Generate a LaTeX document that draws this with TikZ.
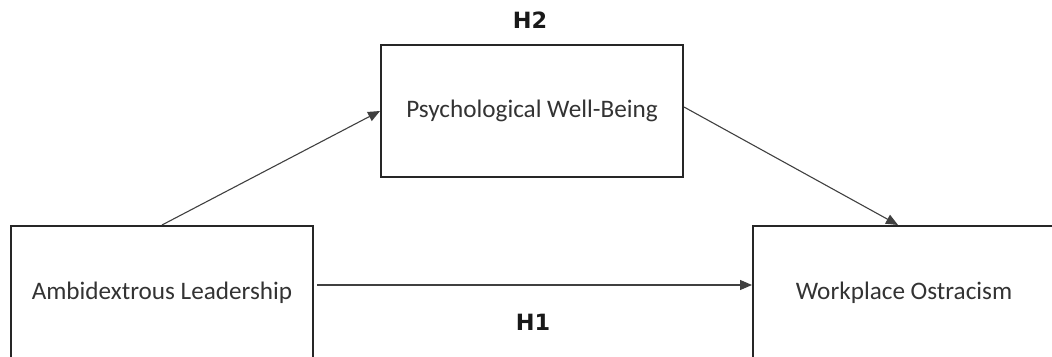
\documentclass[tikz,border=0pt]{standalone}
\usepackage{fontspec}
\setmainfont{Carlito}
\newfontfamily\hypfont{DejaVu Sans}
\usetikzlibrary{arrows.meta}

\begin{document}
\begin{tikzpicture}[x=0.5pt, y=-0.5pt,
  varbox/.style={draw=black!85, line width=1pt, minimum width=151pt, font=\fontsize{12.6}{15}\selectfont, text=black!80},
  path/.style={draw=black!75, line width=0.55pt, -{Triangle[length=6pt,width=5pt]}},
  hyp/.style={font=\hypfont\bfseries\fontsize{11.2}{13}\selectfont, text=black!90}]
\useasboundingbox (0,0) rectangle (1052,357);
\clip (0,0) rectangle (1052,357);

\node[varbox, minimum height=66pt] (well) at (532,111) {Psychological Well-Being};
\node[varbox, minimum height=67pt] (lead) at (162,293) {Ambidextrous Leadership};
\node[varbox, minimum height=67pt] (ostr) at (904,293) {Workplace Ostracism};

\draw[path] (lead.north) -- (well.west);
\draw[path] ([yshift=2pt]well.east) -- ([xshift=-3pt]ostr.north);
\draw[path, shorten <=1.5pt] ([yshift=4pt]lead.east) -- ([yshift=4pt]ostr.west);

\node[hyp] (h2) at (530,20) {H2};
\node[hyp] (h1) at (533,322) {H1};
\end{tikzpicture}
\end{document}
